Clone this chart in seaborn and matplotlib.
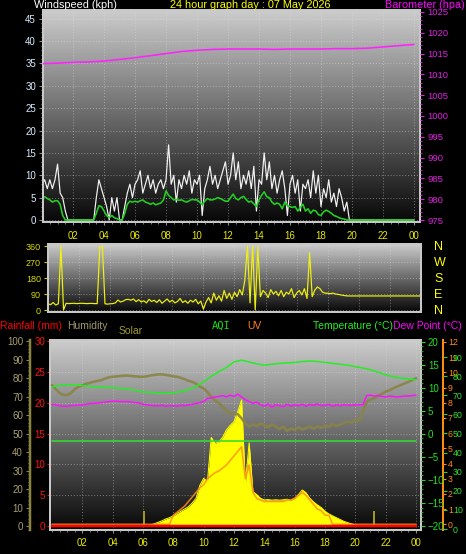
import numpy as np
import matplotlib
matplotlib.use('Agg')
import matplotlib.pyplot as plt
from matplotlib.ticker import MultipleLocator
import seaborn as sns

# ---------------- data ----------------
title = '24 hour graph day : 07 May 2026'

hour_ticks = [2, 4, 6, 8, 10, 12, 14, 16, 18, 20, 22, 24]
hour_labels = ['02', '04', '06', '08', '10', '12', '14', '16', '18', '20', '22', '00']

# barometer, hourly (hpa)
baro = [1012.6, 1012.7, 1012.9, 1013.0, 1013.2, 1013.6, 1014.0, 1014.5, 1015.0,
        1015.5, 1015.8, 1016.0, 1016.1, 1016.1, 1016.1, 1016.0, 1016.1, 1016.1,
        1016.1, 1016.2, 1016.2, 1016.3, 1016.6, 1016.9, 1017.2]

# wind gust, 10 minute readings (kph), one row per hour
wind_gust = [
    8, 9, 7, 9, 7, 9,          # 00
    12.5, 6, 5, 2, 0, 0,       # 01
    0, 0, 0, 0, 0, 0,          # 02
    0, 0, 0, 5, 9, 7,          # 03
    5, 3, 0, 5, 2, 5,          # 04
    0, 0, 3, 6, 8, 5,          # 05
    8, 9, 11, 6, 8, 10,        # 06
    7, 9, 6, 8, 9, 7,          # 07
    9, 16.8, 8, 10, 4, 9,      # 08
    7, 10, 8, 11, 6, 9,        # 09
    8, 10, 1, 7, 9, 12,        # 10
    8, 10, 7, 9, 11, 13,       # 11
    8, 10, 15, 9, 13, 7,       # 12
    10, 8, 11, 7, 12, 2,       # 13
    9, 8, 15, 9, 13, 7,        # 14
    10, 6, 9, 11, 7, 1,        # 15
    8, 10, 6, 9, 2, 8,         # 16
    7, 9, 5, 11, 6, 10,        # 17
    3, 7, 5, 9, 4, 6,          # 18
    3, 7, 5, 2, 4, 0,          # 19
    0, 0, 0, 0, 0, 0,          # 20
    0, 0, 0, 0, 0, 0,          # 21
    0, 0, 0, 0, 0, 0,          # 22
    0, 0, 0, 0, 0, 0,          # 23
    0,
]

# wind average, 10 minute readings (kph)
wind_avg = [
    5.0, 5.2, 4.8, 4.5, 4.0, 4.3,   # 00
    4.3, 3.5, 1.0, 0, 0, 0,         # 01
    0, 0, 0, 0, 0, 0,               # 02
    0, 0, 0, 1.5, 3.2, 3.0,         # 03
    2.0, 1.0, 0.5, 1.0, 0.5, 0.3,   # 04
    0, 0, 1.5, 3.5, 4.2, 4.0,       # 05
    4.2, 4.0, 4.3, 4.5, 4.0, 3.8,   # 06
    3.5, 3.8, 3.4, 3.6, 3.8, 4.5,   # 07
    6.5, 5.5, 5.0, 4.5, 4.6, 4.4,   # 08
    4.5, 4.2, 4.0, 4.3, 4.6, 4.5,   # 09
    4.5, 4.0, 3.4, 4.2, 4.8, 4.5,   # 10
    4.5, 4.7, 5.0, 4.8, 4.5, 4.2,   # 11
    4.2, 5.0, 5.8, 4.8, 4.5, 5.0,   # 12
    5.3, 4.6, 4.0, 4.2, 3.6, 3.0,   # 13
    4.5, 5.5, 6.3, 5.2, 5.0, 4.0,   # 14
    3.5, 3.8, 3.5, 2.5, 4.0, 3.2,   # 15
    3.0, 2.8, 3.0, 2.0, 2.8, 3.5,   # 16
    2.0, 2.5, 1.5, 2.2, 2.0, 1.2,   # 17
    1.0, 1.8, 2.2, 1.9, 1.5, 1.0,   # 18
    0.8, 0.5, 0.3, 0.2, 0, 0,       # 19
    0, 0, 0, 0, 0, 0,               # 20
    0, 0, 0, 0, 0, 0,               # 21
    0, 0, 0, 0, 0, 0,               # 22
    0, 0, 0, 0, 0, 0,               # 23
    0,
]

# wind direction, 10 minute readings (degrees)
wind_dir = [
    35, 30, 42, 28, 35, 360,        # 00
    0, 38, 36, 37, 38, 36,          # 01
    37, 38, 37, 36, 37, 37,         # 02
    36, 36, 355, 358, 35, 33,       # 03
    35, 36, 40, 56, 45, 50,         # 04
    58, 60, 55, 62, 47, 58,         # 05
    45, 52, 40, 60, 48, 55,         # 06
    42, 58, 38, 50, 62, 45,         # 07
    55, 40, 48, 65, 42, 52,         # 08
    38, 55, 45, 60, 35, 50,         # 09
    5, 45, 70, 40, 95, 55,          # 10
    80, 50, 110, 65, 95, 60,        # 11
    100, 75, 115, 85, 169, 360,     # 12
    40, 360, 0, 355, 75, 110,       # 13
    95, 70, 115, 90, 105, 80,       # 14
    110, 75, 100, 90, 120, 70,      # 15
    95, 110, 85, 120, 65, 322,      # 16
    75, 112, 130, 120, 100, 95,     # 17
    94, 92, 95, 90, 88, 85,         # 18
    82, 80, 79, 79, 79, 79,         # 19
    79, 79, 79, 79, 79, 79,         # 20
    79, 79, 79, 79, 79, 79,         # 21
    79, 79, 79, 79, 79, 79,         # 22
    79, 79, 79, 79, 79, 79,         # 23
    79,
]
compass_labels = ['N', 'E', 'S', 'W', 'N']

# temperature, half hourly (deg C)
temperature = [10.2, 10.5, 10.6, 10.6, 10.5, 10.3, 10.2, 10.1, 10.0, 9.9,
               9.7, 9.5, 9.1, 9.0, 8.8, 8.8, 8.9, 9.2, 9.6, 10.3,
               11.3, 12.5, 13.5, 14.4, 15.6, 16.0, 15.6, 15.2, 14.9, 15.1,
               15.3, 15.4, 15.5, 15.7, 15.8, 15.7, 15.5, 15.3, 15.1, 14.9,
               14.6, 14.3, 13.9, 13.4, 12.8, 12.4, 12.1, 11.9, 11.7]

# dew point, 15 minute readings (deg C)
dew_point = [
    6.4, 6.3, 6.1, 6.0,   6.0, 6.1, 6.2, 6.2,   6.3, 6.4, 6.6, 6.6,   # 00-02
    6.7, 6.8, 6.9, 7.0,   7.1, 7.1, 7.0, 7.0,   7.0, 6.9, 6.8, 6.7,   # 03-05
    6.4, 6.3, 6.2, 6.1,   6.1, 6.2, 6.0, 6.1,   6.1, 6.0, 6.2, 6.1,   # 06-08
    6.3, 6.4, 6.6, 6.8,   7.0, 7.7, 7.8, 8.0,   8.1, 8.3, 8.0, 8.4,   # 09-11
    8.1, 8.6, 8.0, 7.4,   7.0, 6.6, 6.9, 6.3,   6.0, 6.5, 5.8, 6.3,   # 12-14
    6.1, 5.9, 6.4, 6.0,   6.3, 6.1, 6.4, 6.0,   6.4, 6.2, 6.5, 6.1,   # 15-17
    6.2, 6.4, 6.0, 6.3,   6.1, 6.3, 6.2, 6.2,   6.3, 6.3, 6.3, 8.3,   # 18-20
    8.4, 8.2, 8.3, 8.1,   8.0, 8.2, 8.1, 8.0,   8.1, 8.2, 8.2, 8.3,   # 21-23
    8.4,
]

# humidity, 15 minute readings (%)
humidity = [
    76.3, 74.0, 72.0, 71.0,   70.9, 72.0, 74.0, 75.4,   76.0, 77.0, 77.5, 78.1,   # 00-02
    78.5, 79.0, 79.8, 80.5,   80.8, 81.0, 81.2, 81.4,   81.4, 81.2, 81.0, 80.8,   # 03-05
    80.8, 81.0, 81.5, 81.8,   82.1, 82.1, 81.8, 81.5,   81.0, 80.8, 80.2, 79.5,   # 06-08
    78.6, 78.0, 77.0, 75.5,   74.5, 72.5, 70.0, 68.0,   66.5, 64.5, 62.5, 61.0,   # 09-11
    61.0, 60.5, 58.3, 55.5,   53.8, 55.0, 54.2, 55.5,   54.7, 53.5, 55.0, 53.8,   # 12-14
    52.5, 53.8, 51.5, 52.8,   52.0, 53.5, 52.2, 53.0,   53.8, 52.5, 54.0, 53.2,   # 15-17
    54.5, 53.8, 55.0, 54.2,   55.0, 55.8, 56.5, 56.0,   57.3, 57.0, 61.9, 67.3,   # 18-20
    68.5, 69.1, 70.5, 71.5,   72.7, 73.5, 74.5, 75.5,   76.3, 77.2, 78.0, 79.0,   # 21-23
    80.0,
]

# solar radiation, 15 minute readings (W/m2)
solar = [
    0, 0, 0, 0,   0, 0, 0, 0,   0, 0, 0, 0,             # 00-02
    0, 0, 0, 0,   0, 0, 0, 0,   0, 0, 0, 0,             # 03-05
    0, 0, 5, 12,   20, 28, 38, 45,   55, 68, 80, 92,    # 06-08
    105, 125, 150, 220,   258, 240, 480, 447,   455, 480, 520, 545,   # 09-11
    565, 620, 682, 230,   450, 186, 170, 150,   141, 143, 140, 142,   # 12-14
    140, 142, 145, 140,   150, 170, 195, 180,   150, 130, 114, 100,   # 15-17
    80, 66, 55, 45,   35, 25, 18, 12,   6, 2, 0, 0,       # 18-20
    0, 0, 0, 0,   0, 0, 0, 0,   0, 0, 0, 0,             # 21-23
    0,
]
sun_events = [6.07, 21.2]

# UV index, 15 minute readings
uv_index = [
    0, 0, 0, 0,   0, 0, 0, 0,   0, 0, 0, 0,             # 00-02
    0, 0, 0, 0,   0, 0, 0, 0,   0, 0, 0, 0,             # 03-05
    0, 0, 0, 0,   0, 0, 0, 0,   0.6, 0.8, 1.0, 1.2,     # 06-08
    1.5, 1.8, 2.1, 2.4,   2.6, 3.0, 3.2, 3.4,   3.5, 3.7, 3.9, 4.2,   # 09-11
    4.5, 4.8, 5.1, 3.0,   3.9, 2.1, 1.7, 1.6,   1.5, 1.5, 1.5, 1.5,   # 12-14
    1.5, 1.5, 1.6, 1.6,   1.7, 1.9, 2.1, 1.9,   1.6, 1.3, 1.0, 0.9,   # 15-17
    0.6, 0.6, 0, 0,   0, 0, 0, 0,   0, 0, 0, 0,         # 18-20
    0, 0, 0, 0,   0, 0, 0, 0,   0, 0, 0, 0,             # 21-23
    0,
]

aqi_hours = [0, 6, 12, 18, 24]
aqi = [46, 46, 46, 46, 46]

rain_hours = [0, 24]
rain_mm = [0, 0]

t_hour = np.arange(len(baro))
t_10 = np.arange(len(wind_gust)) / 6
t_15 = np.arange(len(humidity)) / 4
t_30 = np.arange(len(temperature)) / 2

# ---------------- layout helpers ----------------
W, H = 466, 554
PT = 72 / 100          # pixels -> points
FRAME = '#c8c8c8'


def rect(left, top, right, bottom):
    return [left / W, 1 - bottom / H, (right - left) / W, (bottom - top) / H]


def px_text(x, y, s, **kw):
    fig.text(x / W, 1 - y / H, s, va='center', **kw)


def panel(ax):
    grad = np.linspace(0.80, 0.03, 256).reshape(-1, 1)
    ax.imshow(grad, cmap='gray', vmin=0, vmax=1, aspect='auto',
              extent=[0, 1, 0, 1], transform=ax.transAxes, zorder=-10)
    for s in ax.spines.values():
        s.set_color(FRAME)
        s.set_linewidth(2 * PT)
    ax.set_axisbelow(True)
    ax.grid(True, which='major', color='#e0e0e0', ls=(0, (1, 2)), lw=0.7, alpha=0.45)


def clear_twin(ax):
    for s in ax.spines.values():
        s.set_visible(False)


def line(ax, x, y, color, lw, **kw):
    sns.lineplot(x=x, y=y, ax=ax, color=color, linewidth=lw * PT,
                 estimator=None, legend=False, **kw)


sns.set_style('ticks')
plt.rcParams['font.family'] = ['Liberation Sans', 'DejaVu Sans']
plt.rcParams['font.size'] = 7

fig = plt.figure(figsize=(W / 100, H / 100), dpi=100, facecolor='black')

# ---------------- top panel: wind speed + barometer ----------------
ax1 = fig.add_axes(rect(43, 10, 420, 222))
panel(ax1)
line(ax1, t_10, wind_gust, '#f2f2f2', 1.2)
line(ax1, t_10, wind_avg, '#22d022', 1.6)
ax1.set_xlim(0.06, 24.39)
ax1.set_ylim(-0.45, 46.95)
ax1.set_yticks(range(0, 50, 5))
ax1.yaxis.set_minor_locator(MultipleLocator(1))
ax1.set_xticks(hour_ticks)
ax1.set_xticklabels(hour_labels)
ax1.xaxis.set_minor_locator(MultipleLocator(0.5))
ax1.tick_params(axis='y', which='major', colors='#909090', labelcolor='#d8ecff',
                labelsize=7, length=4 * PT, pad=3 * PT)
ax1.tick_params(axis='y', which='minor', colors='#909090', length=2 * PT)
ax1.tick_params(axis='x', which='major', colors='#909090', labelcolor='#e8e800',
                labelsize=7, length=3 * PT, pad=6 * PT)
ax1.tick_params(axis='x', which='minor', colors='#909090', length=2 * PT)
ax1.set_xlabel('')
ax1.set_ylabel('')

ax1b = ax1.twinx()
clear_twin(ax1b)
line(ax1b, t_hour, baro, '#ff22ff', 1.6)
ax1b.set_ylim(974.52, 1025.48)
ax1b.set_yticks(range(975, 1030, 5))
ax1b.yaxis.set_minor_locator(MultipleLocator(1))
ax1b.tick_params(axis='y', which='major', colors='#e020e0', labelcolor='#e020e0',
                 labelsize=6.8, length=4 * PT, pad=3 * PT)
ax1b.tick_params(axis='y', which='minor', colors='#e020e0', length=2 * PT)
ax1b.set_ylabel('')

px_text(34, 5, 'Windspeed (kph)', color='white', fontsize=7.8)
px_text(250, 5, title, color='#ffff00', fontsize=7.8, ha='center')
px_text(465, 5, 'Barometer (hpa)', color='#ff00ff', fontsize=7.8, ha='right')

# ---------------- middle panel: wind direction ----------------
ax2 = fig.add_axes(rect(48, 244, 421, 312))
panel(ax2)
line(ax2, t_10, wind_dir, '#f0f010', 1.2)
ax2.set_xlim(0, 24)
ax2.set_ylim(-11.25, 371.25)
ax2.set_yticks([0, 90, 180, 270, 360])
ax2.set_xticks(hour_ticks)
ax2.tick_params(axis='x', which='both', bottom=False, labelbottom=False)
ax2.tick_params(axis='y', colors='#d0d000', labelcolor='#d8d800', labelsize=6.5,
                length=4 * PT, pad=3 * PT)
ax2.set_ylabel('')

ax2c = ax2.twinx()
clear_twin(ax2c)
ax2c.set_ylim(-11.25, 371.25)
ax2c.set_yticks([0, 90, 180, 270, 360])
ax2c.set_yticklabels(compass_labels)
ax2c.tick_params(axis='y', length=0, pad=13 * PT, labelsize=9, labelcolor='#ffff00')

# ---------------- bottom panel ----------------
ax3 = fig.add_axes(rect(50, 340, 421, 530))
panel(ax3)
ax3.set_xlim(-0.13, 24.33)
ax3.set_ylim(-0.65, 30.21)
ax3.set_yticks(range(0, 35, 5))
ax3.yaxis.set_minor_locator(MultipleLocator(1))
ax3.set_xticks(hour_ticks)
ax3.set_xticklabels(hour_labels)
ax3.xaxis.set_minor_locator(MultipleLocator(0.5))
ax3.tick_params(axis='y', which='major', colors='#ff0000', labelcolor='#ff1010',
                labelsize=7, length=3 * PT, pad=2 * PT)
ax3.tick_params(axis='y', which='minor', colors='#c00000', length=1.5 * PT)
ax3.tick_params(axis='x', which='major', colors='#909090', labelcolor='#e8e800',
                labelsize=7, length=3 * PT, pad=5 * PT)
ax3.tick_params(axis='x', which='minor', colors='#909090', length=2 * PT)

# solar (own hidden scale)
ax_s = ax3.twinx()
ax_s.set_axis_off()
ax_s.fill_between(t_15, solar, color='#ffff00', lw=0)
line(ax_s, t_15, solar, '#ffff00', 1)
ax_s.vlines(sun_events, 0, 80, color='#a09818', lw=2 * PT)
ax_s.set_ylim(-21.7, 1007)

# UV
ax_uv = ax3.twinx()
clear_twin(ax_uv)
ax_uv.spines['right'].set_visible(True)
ax_uv.spines['right'].set_position(('outward', 22 * PT))
ax_uv.spines['right'].set_color('#ff8a10')
ax_uv.spines['right'].set_linewidth(2 * PT)
line(ax_uv, t_15, uv_index, '#ff8c1a', 1.6, alpha=0.85)
ax_uv.set_ylim(-0.375, 12.13)
ax_uv.set_yticks(range(0, 13))
ax_uv.tick_params(axis='y', colors='#ff8a10', labelcolor='#ff8a10', labelsize=6.3,
                  length=3 * PT, pad=2 * PT)
ax_uv.set_ylabel('')

# humidity (left, outward)
ax_h = ax3.twinx()
clear_twin(ax_h)
ax_h.yaxis.tick_left()
ax_h.spines['left'].set_visible(True)
ax_h.spines['left'].set_position(('outward', 20 * PT))
ax_h.spines['left'].set_color('#8a8440')
ax_h.spines['left'].set_linewidth(2.5 * PT)
line(ax_h, t_15, humidity, '#8a8446', 2.6, alpha=0.9)
ax_h.set_ylim(-2.17, 100.7)
ax_h.set_yticks(range(0, 110, 10))
ax_h.yaxis.set_minor_locator(MultipleLocator(2))
ax_h.tick_params(axis='y', which='major', colors='#8a8440', labelcolor='#a8a070',
                 labelsize=7, length=4 * PT, pad=3 * PT)
ax_h.tick_params(axis='y', which='minor', colors='#8a8440', length=2 * PT)
ax_h.set_ylabel('')

# AQI
ax_a = ax3.twinx()
clear_twin(ax_a)
ax_a.spines['right'].set_position(('outward', 22 * PT))
line(ax_a, aqi_hours, aqi, '#30e030', 1.6)
ax_a.set_ylim(-0.52, 98.9)
ax_a.set_yticks(range(0, 100, 10))
ax_a.tick_params(axis='y', colors='#30d030', labelcolor='#30e030', labelsize=6.3,
                 length=4 * PT, pad=6 * PT)
ax_a.set_ylabel('')

# temperature + dew point
ax_t = ax3.twinx()
clear_twin(ax_t)
line(ax_t, t_30, temperature, '#22f022', 1.5)
line(ax_t, t_15, dew_point, '#ff10ff', 1.5)
ax_t.set_ylim(-20.87, 20.37)
ax_t.set_yticks(range(-20, 25, 5))
ax_t.yaxis.set_minor_locator(MultipleLocator(1))
ax_t.tick_params(axis='y', which='major', colors='#20e020', labelcolor='#20e020',
                 labelsize=7, length=4 * PT, pad=3 * PT)
ax_t.tick_params(axis='y', which='minor', colors='#20c020', length=1.5 * PT)
ax_t.set_ylabel('')

# rainfall line drawn last
ax_r = ax3.twinx()
ax_r.set_axis_off()
line(ax_r, rain_hours, rain_mm, '#ff0000', 2.5)
ax_r.set_ylim(-0.65, 30.21)

for a in (ax3, ax_s, ax_uv, ax_h, ax_a, ax_t, ax_r):
    a.set_xlim(-0.13, 24.33)
    a.set_xlabel('')

px_text(0, 326, 'Rainfall (mm)', color='#ff0000', fontsize=7.5)
px_text(67, 326, 'Humidity', color='#a09870', fontsize=7.5)
px_text(119, 331, 'Solar', color='#a09a30', fontsize=7.5)
px_text(212, 326, 'AQI', color='#10e010', fontsize=7.5, family='DejaVu Sans Mono')
px_text(247, 326, 'UV', color='#ff8020', fontsize=7.5)
px_text(313, 326, 'Temperature (\u00b0C)', color='#20f020', fontsize=7.5)
px_text(393, 326, 'Dew Point (\u00b0C)', color='#ff00ff', fontsize=7.5)

fig.savefig('out.png', dpi=100, facecolor='black')
